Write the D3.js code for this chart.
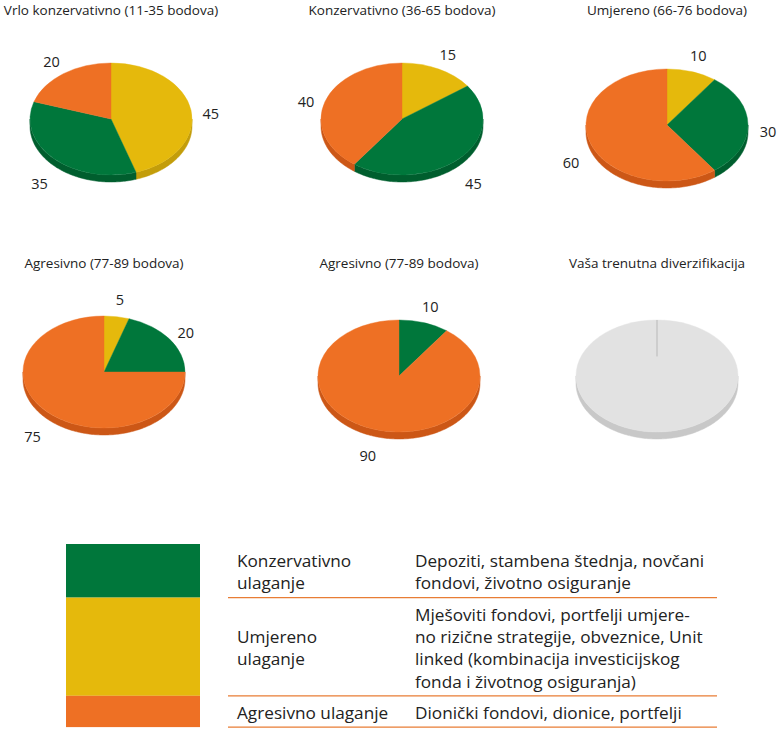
<!DOCTYPE html>
<html>
<head>
<meta charset="utf-8">
<script src="https://cdnjs.cloudflare.com/ajax/libs/d3/7.8.5/d3.min.js"></script>
<style>
  body { margin: 0; background: #fff; }
  svg { display: block; font-family: "Open Sans", sans-serif; }
  .title { font-size: 13.5px; fill: #222; }
  .lbl { font-size: 14.5px; fill: #222; }
  .leg { font-size: 17.2px; fill: #222; }
</style>
</head>
<body>
<div id="chart"></div>
<script>
// naslovi grafikona
const titles = [
  "Vrlo konzervativno (11-35 bodova)",
  "Konzervativno (36-65 bodova)",
  "Umjereno (66-76 bodova)",
  "Agresivno (77-89 bodova)",
  "Agresivno (77-89 bodova)",
  "Vaša trenutna diverzifikacija"
];

// udjeli po kategoriji (jedan broj po grafikonu)
const umjereno      = [45, 15, 10, 5, 0, 0];
const konzervativno = [35, 45, 30, 20, 10, 0];
const agresivno     = [20, 40, 60, 75, 90, 0];
const trenutno      = [0, 0, 0, 0, 0, 100];

// legenda
const legendNames = [["Konzervativno", "ulaganje"], ["Umjereno", "ulaganje"], ["Agresivno ulaganje"]];
const legendText = [
  ["Depoziti, stambena štednja, novčani", "fondovi, životno osiguranje"],
  ["Mješoviti fondovi, portfelji umjere-", "no rizične strategije, obveznice, Unit",
   "linked (kombinacija investicijskog", "fonda i životnog osiguranja)"],
  ["Dionički fondovi, dionice, portfelji"]
];

const width = 782, height = 733;

let colors = d3.scaleOrdinal()
  .domain(["umjereno", "konzervativno", "agresivno", "trenutno"])
  .range(["#e5b90c", "#00773b", "#ee7024", "#e2e2e2"]);
let sideColors = d3.scaleOrdinal()
  .domain(["umjereno", "konzervativno", "agresivno", "trenutno"])
  .range(["#c39d0a", "#005e2e", "#cc5716", "#c8c8c8"]);

// raspored grafikona
const cells = [
  {cx: 111, cy: 119, ty: 15},
  {cx: 402, cy: 119, ty: 15},
  {cx: 667, cy: 125, ty: 15},
  {cx: 104, cy: 372, ty: 268},
  {cx: 399, cy: 376, ty: 268},
  {cx: 657, cy: 376, ty: 268}
];
const rx = 81, ry = 56, depth = 7;

let svg = d3.select("#chart").append("svg")
  .attr("width", width)
  .attr("height", height);

let pie = d3.pie().sort(null).value(d => d.value);
let arc = d3.arc().innerRadius(0).outerRadius(rx);

function ellPt(c, a, dy) {
  return [c.cx + rx * Math.sin(a), c.cy - ry * Math.cos(a) + (dy || 0)];
}

titles.forEach(function(t, i) {
  let c = cells[i];
  let slices = pie([
    {key: "umjereno", value: umjereno[i]},
    {key: "konzervativno", value: konzervativno[i]},
    {key: "agresivno", value: agresivno[i]},
    {key: "trenutno", value: trenutno[i]}
  ]);

  let g = svg.append("g");

  g.append("text")
    .attr("class", "title")
    .attr("x", c.cx)
    .attr("y", c.ty)
    .attr("text-anchor", "middle")
    .text(t);

  // bočne stijenke (vidljiva donja polovica)
  slices.forEach(function(s) {
    if (s.value === 0) return;
    let a0 = Math.max(s.startAngle, Math.PI / 2),
        a1 = Math.min(s.endAngle, Math.PI * 1.5);
    if (a1 <= a0) return;
    let steps = d3.range(a0, a1, 0.02).concat([a1]);
    let top = steps.map(a => ellPt(c, a, 0));
    let bot = steps.slice().reverse().map(a => ellPt(c, a, depth));
    g.append("path")
      .attr("d", d3.line()(top.concat(bot)) + "Z")
      .attr("fill", sideColors(s.data.key))
      .attr("stroke", sideColors(s.data.key))
      .attr("stroke-width", 0.5);
  });

  // gornja ploha
  g.append("g")
    .attr("transform", "translate(" + c.cx + "," + c.cy + ") scale(1," + (ry / rx) + ")")
    .selectAll("path")
    .data(slices.filter(s => s.value > 0))
    .enter()
    .append("path")
    .attr("d", arc)
    .attr("fill", d => colors(d.data.key))
    .attr("stroke", d => colors(d.data.key))
    .attr("stroke-width", 0.5);

  if (trenutno[i] > 0) {
    g.append("line")
      .attr("x1", c.cx).attr("x2", c.cx)
      .attr("y1", c.cy - ry).attr("y2", c.cy - ry * 0.35)
      .attr("stroke", "#b8b8b8")
      .attr("stroke-width", 1);
  }

  // oznake vrijednosti
  g.selectAll(".lbl")
    .data(slices.filter(s => s.value > 0 && s.data.key !== "trenutno"))
    .enter()
    .append("text")
    .attr("class", "lbl")
    .attr("text-anchor", "middle")
    .attr("dominant-baseline", "central")
    .attr("x", d => {
      let m = (d.startAngle + d.endAngle) / 2;
      return c.cx + (rx + 20) * Math.sin(m);
    })
    .attr("y", d => {
      let m = (d.startAngle + d.endAngle) / 2;
      return c.cy - (ry + 18) * Math.cos(m) + (Math.cos(m) < 0 ? depth + 2 : 0)
        + 6 * Math.sin(m) * Math.sin(m);
    })
    .text(d => d.value);
});

/////////////////// Legenda
const lineH = 22.3, legTop = 544;
let rowY = [legTop];
legendText.forEach(function(lines, i) {
  rowY.push(rowY[i] + lines.length * lineH + 9);
});
let legKeys = ["konzervativno", "umjereno", "agresivno"];

let leg = svg.append("g");

legKeys.forEach(function(k, i) {
  leg.append("rect")
    .attr("x", 66)
    .attr("y", rowY[i])
    .attr("width", 134)
    .attr("height", rowY[i + 1] - rowY[i])
    .attr("fill", colors(k));

  leg.append("line")
    .attr("x1", 228).attr("x2", 717)
    .attr("y1", rowY[i + 1]).attr("y2", rowY[i + 1])
    .attr("stroke", "#e87d35")
    .attr("stroke-width", 1.2);

  let n = legendText[i].length;
  legendText[i].forEach(function(l, j) {
    leg.append("text")
      .attr("class", "leg")
      .attr("x", 415)
      .attr("y", rowY[i] + 23 + j * lineH)
      .text(l);
  });

  let off = (n - legendNames[i].length) / 2;
  legendNames[i].forEach(function(l, j) {
    leg.append("text")
      .attr("class", "leg")
      .attr("x", 237)
      .attr("y", rowY[i] + 23 + (j + off) * lineH)
      .text(l);
  });
});
</script>
</body>
</html>
